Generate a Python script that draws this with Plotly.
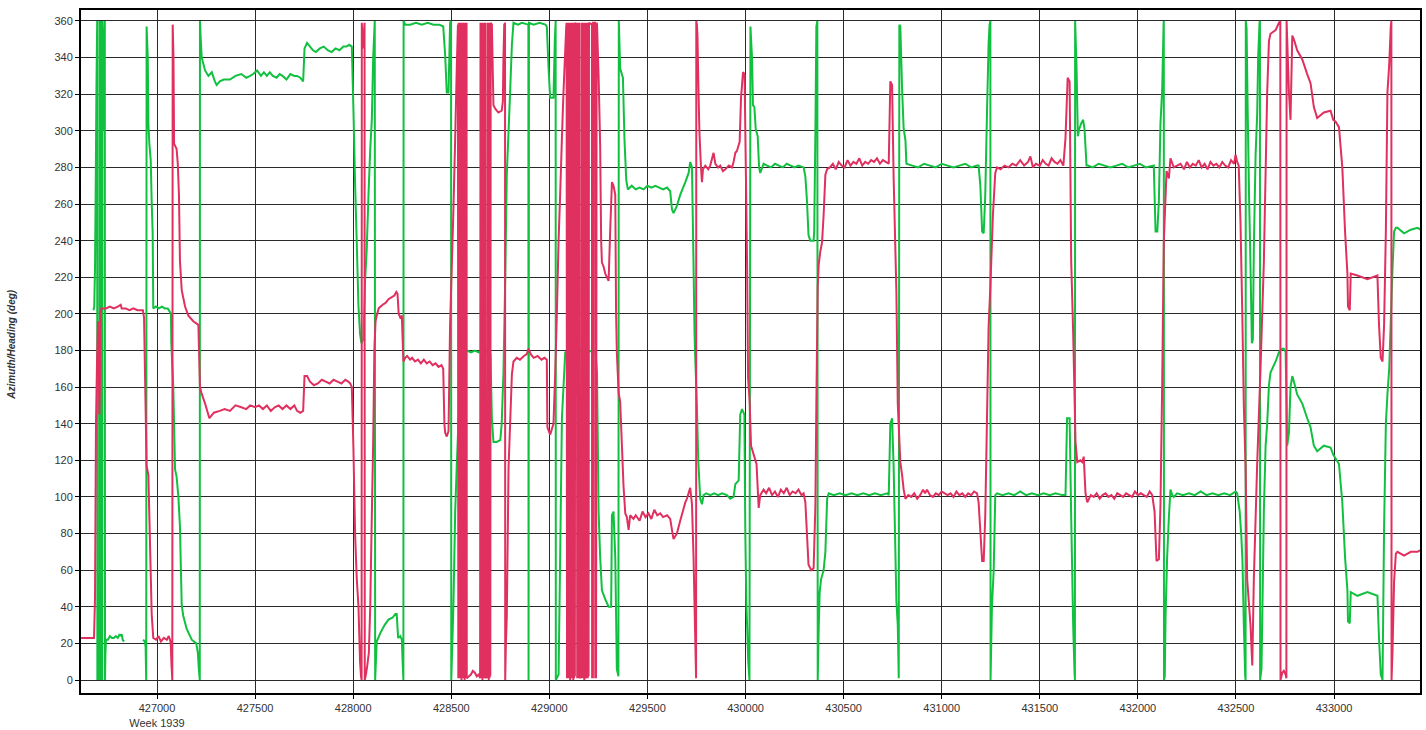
import plotly.graph_objects as go

# ---------------- data (x = time of week [s], y = angle [deg]) ----------------
GREEN = [
    (426676, 202), (426680, 204), (426684, 225), (426688, 275), (426691, 320), (426695, 360), (426696, 0),
    (426700, 8), (426703, 14), (426706, 0), (426707, 360), (426711, 355), (426713, 360), (426714, 0),
    (426718, 10), (426721, 0), (426722, 360), (426726, 340), (426728, 300), (426731, 345),
    (426734, 360), (426735, 0), (426737, 14), (426740, 22), (426750, 22), (426760, 24),
    (426770, 23), (426780, 23), (426790, 24), (426800, 23), (426810, 25), (426815, 24), (426820, 25),
    (426825, 22), (426832, 21),
    (426880, None),
    (426929, 22), (426938, 21), (426942, 18), (426945, 0), (426947, 357), (426953, 340), (426956, 304),
    (426961, 293), (426968, 284), (426973, 261), (426978, 244), (426981, 203), (426995, 204), (427010, 203),
    (427025, 204), (427040, 203), (427055, 203), (427066, 201), (427071, 200), (427073, 184), (427083, 160),
    (427092, 115), (427100, 111), (427109, 100), (427117, 84), (427122, 60), (427126, 41), (427134, 35),
    (427151, 28), (427177, 22), (427200, 20), (427208, 15), (427214, 5), (427218, 0), (427219, 360),
    (427223, 350), (427228, 340), (427245, 333), (427262, 330), (427279, 332), (427295, 327), (427304, 325),
    (427320, 327), (427340, 328), (427372, 328), (427400, 330), (427430, 331), (427455, 329), (427475, 330),
    (427490, 331), (427510, 333), (427530, 330), (427545, 332), (427560, 330), (427575, 332), (427590, 330),
    (427610, 329), (427625, 331), (427640, 330), (427660, 328), (427680, 331), (427700, 330), (427714, 330),
    (427730, 329), (427745, 327), (427752, 345), (427765, 348), (427780, 346), (427795, 344), (427810, 343),
    (427830, 345), (427850, 346), (427870, 344), (427890, 343), (427910, 345), (427930, 344), (427950, 346),
    (427965, 346), (427980, 347), (427993, 346), (428001, 313), (428010, 270), (428018, 240), (428027, 204),
    (428035, 189), (428042, 184), (428052, 186), (428061, 219), (428069, 235), (428078, 265), (428087, 290),
    (428095, 306), (428102, 340), (428110, 360), (428112, 0), (428120, 21), (428140, 26), (428160, 30),
    (428180, 33), (428200, 34), (428215, 36), (428222, 36), (428229, 23), (428240, 24), (428248, 22),
    (428252, 10), (428256, 0), (428257, 360), (428265, 358), (428290, 358), (428320, 359), (428350, 358),
    (428380, 359), (428410, 358), (428440, 358), (428459, 357), (428469, 341), (428477, 321), (428486, 321),
    (428494, 359), (428499, 360), (428500, 0), (428511, 41), (428520, 92), (428528, 117), (428540, 150),
    (428555, 175), (428565, 179), (428580, 180), (428600, 179), (428620, 180), (428640, 179), (428660, 180),
    (428680, 179), (428700, 178), (428707, 143), (428715, 130), (428731, 130), (428750, 131), (428757, 140),
    (428766, 168), (428775, 219), (428783, 276), (428800, 321), (428809, 347), (428817, 359), (428840, 358),
    (428860, 359), (428893, 358), (428894, 0), (428896, 359), (428920, 358), (428950, 359), (428980, 358),
    (428987, 357), (428996, 334), (429004, 318), (429021, 318), (429028, 350), (429032, 360), (429033, 0),
    (429047, 3), (429055, 67), (429064, 143), (429081, 179), (429100, 180), (429130, 179), (429160, 180),
    (429190, 179), (429220, 180), (429234, 180), (429243, 168), (429251, 92), (429259, 67), (429268, 49),
    (429285, 44), (429302, 40), (429315, 40), (429319, 90), (429327, 92), (429336, 67), (429344, 6),
    (429352, 2), (429354, 360), (429361, 334), (429375, 329), (429383, 295), (429392, 273), (429400, 268),
    (429420, 270), (429440, 268), (429460, 269), (429480, 268), (429500, 270), (429520, 269), (429540, 270),
    (429560, 269), (429580, 268), (429600, 269), (429616, 267), (429625, 257), (429633, 255), (429650, 259),
    (429667, 265), (429693, 272), (429710, 277), (429718, 283), (429727, 280), (429735, 226), (429740, 189),
    (429745, 172), (429752, 150), (429759, 120), (429769, 99), (429778, 96), (429786, 101), (429800, 102),
    (429820, 101), (429840, 102), (429860, 101), (429880, 102), (429905, 101), (429922, 99), (429939, 100),
    (429948, 107), (429965, 109), (429973, 145), (429982, 148), (429994, 145), (429999, 79), (430004, 43),
    (430014, 10), (430020, 0), (430025, 357), (430033, 340), (430038, 314), (430045, 313), (430052, 301),
    (430062, 297), (430069, 280), (430075, 277), (430092, 282), (430110, 281), (430130, 280), (430150, 282),
    (430170, 281), (430190, 280), (430210, 282), (430230, 281), (430250, 280), (430270, 281), (430296, 280),
    (430305, 275), (430313, 262), (430321, 243), (430330, 240), (430347, 240), (430350, 245), (430356, 299),
    (430361, 357), (430366, 360), (430368, 0), (430373, 28), (430378, 48), (430385, 55), (430398, 60),
    (430407, 70), (430416, 99), (430424, 102), (430450, 101), (430480, 102), (430510, 101), (430540, 102),
    (430570, 101), (430600, 102), (430630, 101), (430660, 102), (430690, 101), (430721, 102), (430730, 101),
    (430738, 140), (430747, 143), (430755, 116), (430769, 43), (430776, 30), (430781, 1), (430784, 358),
    (430789, 357), (430798, 323), (430806, 301), (430815, 295), (430820, 282), (430850, 281), (430880, 280),
    (430910, 282), (430940, 281), (430970, 280), (431000, 282), (431030, 281), (431060, 280), (431090, 281),
    (431120, 282), (431150, 280), (431180, 281), (431188, 281), (431197, 270), (431206, 245), (431214, 244),
    (431222, 265), (431231, 311), (431239, 348), (431244, 358), (431248, 360), (431249, 0), (431256, 40),
    (431265, 60), (431273, 101), (431282, 102), (431310, 101), (431340, 102), (431370, 101), (431400, 103),
    (431430, 101), (431460, 102), (431490, 101), (431520, 102), (431550, 101), (431580, 102), (431614, 101),
    (431631, 101), (431639, 143), (431652, 143), (431660, 89), (431670, 30), (431677, 4), (431679, 0),
    (431680, 360), (431687, 336), (431694, 297), (431701, 301), (431711, 304), (431721, 306), (431728, 301),
    (431738, 281), (431745, 281), (431770, 280), (431800, 282), (431830, 281), (431860, 280), (431890, 281),
    (431920, 282), (431950, 280), (431980, 281), (432010, 282), (432040, 280), (432081, 281), (432090, 245),
    (432099, 245), (432107, 262), (432115, 304), (432124, 323), (432131, 358), (432132, 360), (432133, 0),
    (432137, 2), (432141, 35), (432149, 67), (432158, 89), (432166, 104), (432175, 101), (432183, 100),
    (432200, 102), (432230, 101), (432260, 102), (432290, 101), (432320, 103), (432350, 101), (432380, 102),
    (432410, 101), (432440, 102), (432470, 101), (432498, 103), (432506, 102), (432519, 92), (432527, 79),
    (432533, 65), (432540, 30), (432547, 2), (432549, 0), (432550, 360), (432554, 356), (432560, 309),
    (432567, 262), (432574, 226), (432581, 184), (432586, 186), (432591, 236), (432600, 287), (432608, 309),
    (432613, 340), (432620, 359), (432622, 360), (432623, 0), (432630, 6), (432637, 55), (432642, 92),
    (432651, 128), (432659, 140), (432668, 161), (432676, 168), (432702, 174), (432719, 179), (432736, 181),
    (432744, 181), (432753, 179), (432758, 150), (432761, 128), (432770, 135), (432778, 160), (432787, 166),
    (432795, 163), (432812, 156), (432838, 151), (432863, 143), (432880, 138), (432897, 128), (432914, 125),
    (432948, 128), (432982, 127), (432996, 123), (433008, 121), (433025, 118), (433042, 97), (433056, 67),
    (433068, 49), (433071, 32), (433080, 31), (433085, 48), (433119, 46), (433170, 48), (433221, 46),
    (433229, 23), (433238, 3), (433247, 0), (433255, 84), (433264, 140), (433272, 156), (433281, 170),
    (433289, 196), (433298, 225), (433306, 245), (433315, 247), (433323, 247), (433357, 244), (433391, 246),
    (433425, 247), (433442, 246),
]

RED = [
    (426613, 23), (426650, 23), (426679, 23), (426684, 45), (426689, 140), (426694, 172), (426699, 196),
    (426703, 170), (426706, 145), (426709, 160), (426712, 200), (426716, 203), (426740, 203), (426760, 204),
    (426780, 203), (426800, 204), (426815, 205), (426820, 203), (426840, 203), (426860, 202), (426880, 203),
    (426900, 202), (426928, 202), (426934, 198), (426947, 117), (426956, 112), (426964, 76), (426973, 36),
    (426981, 23), (426995, 22), (427008, 24), (427020, 21), (427035, 23), (427050, 22), (427060, 24),
    (427066, 22), (427070, 20), (427074, 8), (427078, 0), (427080, 358), (427084, 340), (427087, 293),
    (427100, 290), (427106, 282), (427112, 265), (427117, 229), (427126, 213), (427143, 204), (427160, 199),
    (427185, 196), (427211, 194), (427219, 160), (427226, 157), (427245, 151), (427267, 143), (427290, 146),
    (427320, 147), (427345, 148), (427372, 147), (427400, 150), (427430, 149), (427455, 148), (427475, 150),
    (427500, 149), (427520, 150), (427540, 148), (427560, 150), (427580, 147), (427600, 149), (427620, 150),
    (427640, 148), (427660, 150), (427680, 148), (427700, 150), (427714, 147), (427730, 146), (427745, 147),
    (427752, 166), (427765, 166), (427780, 163), (427800, 161), (427820, 162), (427840, 164), (427860, 163),
    (427880, 162), (427900, 164), (427920, 163), (427940, 162), (427960, 164), (427975, 163), (427985, 162),
    (427993, 160), (428001, 128), (428010, 79), (428018, 56), (428027, 40), (428035, 10), (428040, 2),
    (428043, 0), (428044, 359), (428050, 345), (428058, 359), (428059, 0), (428065, 3), (428072, 8),
    (428080, 15), (428087, 40), (428095, 90), (428102, 130),
    (428108, 180), (428114, 196), (428120, 199), (428130, 203), (428150, 205), (428165, 206), (428180, 208),
    (428195, 209), (428210, 210), (428220, 212), (428226, 211), (428232, 200), (428240, 198), (428248, 199),
    (428256, 174), (428265, 176), (428275, 177), (428290, 175), (428300, 176), (428315, 174), (428330, 175),
    (428345, 173), (428360, 175), (428375, 173), (428390, 174), (428405, 172), (428420, 173), (428435, 171),
    (428450, 172), (428459, 170), (428465, 140), (428469, 135), (428477, 133), (428486, 136), (428494, 194),
    (428511, 257), (428520, 296), (428528, 334), (428534, 358),
    (428536, 1), (428538, 359), (428540, 1), (428542, 358), (428544, 2), (428546, 359), (428548, 1),
    (428550, 359), (428552, 0), (428554, 358), (428556, 1), (428558, 359), (428560, 2), (428562, 359),
    (428564, 1), (428566, 358), (428568, 0), (428570, 359), (428572, 1), (428574, 359), (428576, 2),
    (428578, 359), (428579, 1),
    (428590, 2), (428600, 3), (428610, 5), (428620, 4), (428630, 2), (428640, 3), (428647, 1),
    (428649, 359), (428651, 1), (428653, 358), (428655, 2), (428657, 359), (428659, 0), (428661, 359),
    (428663, 1), (428665, 358), (428667, 2), (428669, 359), (428671, 1), (428673, 359), (428675, 1),
    (428684, 2), (428685, 359), (428687, 1), (428689, 359), (428691, 0), (428693, 358), (428695, 1),
    (428697, 359), (428699, 2), (428701, 359), (428707, 358), (428712, 330), (428715, 314), (428725, 312),
    (428740, 310), (428757, 311), (428763, 316), (428766, 340), (428770, 358), (428774, 359), (428775, 0),
    (428778, 18), (428783, 35), (428792, 116), (428800, 140), (428809, 167), (428817, 174), (428834, 176),
    (428850, 175), (428870, 177), (428885, 178), (428894, 181), (428905, 178), (428920, 176), (428940, 177),
    (428960, 175), (428975, 176), (428987, 175), (428990, 138), (429004, 134), (429021, 140), (429030, 168),
    (429038, 199), (429047, 240), (429055, 265), (429064, 296), (429072, 321), (429086, 357), (429088, 359),
    (429090, 1), (429092, 359), (429094, 1), (429096, 359), (429098, 2), (429100, 358), (429102, 1),
    (429104, 359), (429106, 0), (429108, 359), (429110, 1), (429112, 358), (429114, 2), (429116, 359),
    (429118, 1), (429120, 359), (429122, 0), (429124, 358), (429126, 1), (429128, 359), (429130, 2),
    (429132, 359), (429140, 358), (429142, 1), (429144, 359), (429146, 2), (429148, 358), (429150, 1),
    (429152, 359), (429154, 1), (429163, 2), (429164, 359), (429166, 1), (429168, 358), (429170, 2),
    (429172, 359), (429174, 1), (429176, 359), (429178, 0), (429180, 358), (429182, 1), (429184, 359),
    (429186, 1), (429193, 3), (429194, 359), (429196, 1), (429198, 358), (429200, 2), (429202, 359),
    (429217, 358), (429218, 1), (429220, 359), (429222, 1), (429223, 359), (429233, 359), (429234, 1),
    (429236, 359), (429238, 1), (429241, 359), (429243, 358), (429251, 330), (429259, 292), (429264, 240),
    (429268, 228), (429276, 226), (429285, 222), (429302, 218), (429310, 245), (429319, 272), (429327, 270),
    (429336, 265), (429340, 201), (429344, 179), (429353, 157), (429361, 152), (429370, 128), (429378, 106),
    (429387, 91), (429395, 89), (429404, 82), (429412, 90), (429429, 88), (429440, 90), (429460, 87),
    (429475, 92), (429490, 89), (429505, 91), (429520, 88), (429535, 93), (429550, 90), (429565, 91),
    (429580, 89), (429600, 90), (429616, 88), (429625, 82), (429633, 77), (429650, 80), (429667, 87),
    (429693, 97), (429701, 99), (429718, 105), (429727, 96), (429735, 67), (429743, 26), (429748, 1),
    (429749, 360), (429752, 358), (429755, 352), (429760, 323), (429765, 299), (429773, 280), (429778, 272),
    (429783, 279), (429795, 281), (429810, 279), (429820, 281), (429837, 288), (429846, 282), (429860, 280),
    (429871, 281), (429885, 278), (429897, 279), (429915, 281), (429931, 280), (429939, 283), (429948, 288),
    (429956, 289), (429970, 294), (429977, 318), (429987, 332), (429995, 331), (430002, 275), (430008, 226),
    (430013, 165), (430021, 152), (430028, 128), (430042, 123), (430056, 118), (430067, 94), (430075, 101),
    (430092, 104), (430105, 102), (430120, 105), (430135, 101), (430150, 103), (430165, 100), (430180, 104),
    (430195, 102), (430210, 105), (430225, 101), (430240, 103), (430255, 102), (430270, 104), (430285, 101),
    (430296, 102), (430305, 97), (430321, 63), (430335, 60), (430347, 61), (430356, 95), (430361, 151),
    (430368, 215), (430373, 227), (430381, 234), (430390, 239), (430398, 254), (430407, 276), (430416, 279),
    (430430, 280), (430445, 282), (430460, 279), (430475, 283), (430490, 281), (430505, 280), (430520, 284),
    (430535, 281), (430550, 283), (430565, 282), (430580, 285), (430595, 281), (430610, 283), (430625, 282),
    (430640, 284), (430655, 283), (430670, 285), (430685, 282), (430700, 284), (430715, 283), (430730, 282),
    (430738, 327), (430747, 325), (430755, 274), (430769, 212), (430776, 151), (430789, 119), (430798, 112),
    (430806, 104), (430815, 99), (430830, 101), (430845, 100), (430860, 102), (430875, 99), (430890, 101),
    (430905, 104), (430915, 102), (430925, 104), (430940, 101), (430955, 100), (430970, 102), (430985, 101),
    (431000, 103), (431015, 102), (431030, 101), (431045, 102), (431060, 100), (431075, 103), (431090, 101),
    (431105, 102), (431120, 100), (431135, 102), (431150, 101), (431165, 103), (431180, 102), (431188, 97),
    (431206, 65), (431214, 65), (431222, 90), (431231, 144), (431239, 193), (431248, 215), (431261, 254),
    (431273, 277), (431282, 280), (431300, 279), (431320, 281), (431340, 280), (431360, 282), (431380, 281),
    (431400, 284), (431420, 281), (431440, 283), (431452, 286), (431465, 280), (431480, 282), (431500, 281),
    (431515, 284), (431530, 282), (431545, 281), (431560, 285), (431575, 283), (431590, 282), (431605, 284),
    (431620, 281), (431631, 296), (431642, 329), (431652, 327), (431660, 229), (431670, 190), (431682, 130),
    (431691, 119), (431707, 120), (431716, 119), (431724, 122), (431733, 102), (431742, 97), (431760, 101),
    (431775, 100), (431790, 102), (431805, 99), (431820, 101), (431835, 102), (431850, 100), (431865, 101),
    (431880, 99), (431895, 102), (431910, 101), (431925, 100), (431940, 102), (431955, 101), (431970, 100),
    (431985, 103), (432000, 101), (432015, 102), (432030, 101), (432045, 100), (432060, 103), (432073, 101),
    (432085, 92), (432095, 65), (432107, 66), (432115, 95), (432124, 163), (432132, 239), (432146, 278),
    (432158, 274), (432166, 285), (432183, 280), (432200, 281), (432217, 282), (432235, 279), (432250, 283),
    (432265, 280), (432280, 282), (432295, 281), (432310, 284), (432325, 280), (432340, 282), (432355, 279),
    (432370, 283), (432385, 281), (432400, 282), (432415, 280), (432430, 283), (432445, 281), (432460, 280),
    (432475, 284), (432490, 282), (432498, 287), (432506, 283), (432514, 281), (432523, 250), (432532, 201),
    (432540, 150), (432549, 116), (432557, 55), (432574, 30), (432583, 8), (432591, 55), (432608, 118),
    (432625, 170), (432642, 228), (432659, 321), (432668, 349), (432676, 353), (432702, 355), (432719, 359),
    (432726, 360), (432727, 0), (432736, 4), (432744, 5), (432753, 3), (432757, 1), (432758, 360),
    (432761, 350), (432770, 321), (432778, 306), (432787, 352), (432795, 350), (432812, 344), (432838, 339),
    (432863, 331), (432880, 326), (432897, 313), (432914, 307), (432948, 310), (432982, 311), (432996, 306),
    (433008, 305), (433025, 302), (433042, 280), (433056, 245), (433068, 222), (433071, 204), (433080, 202),
    (433085, 222), (433119, 221), (433170, 219), (433221, 221), (433229, 194), (433238, 176), (433247, 174),
    (433255, 194), (433264, 245), (433272, 321), (433281, 336), (433289, 357), (433292, 360), (433293, 0),
    (433298, 16), (433306, 54), (433315, 69), (433323, 70), (433357, 68), (433391, 70), (433425, 70),
    (433442, 71),
]

X_TICKS = [427000, 427500, 428000, 428500, 429000, 429500, 430000, 430500,
           431000, 431500, 432000, 432500, 433000]
X_TICK_TEXT = ["427000<br>Week 1939"] + [str(v) for v in X_TICKS[1:]]
Y_TICKS = list(range(0, 361, 20))

gx = [p[0] for p in GREEN]
gy = [p[1] for p in GREEN]
rx = [p[0] for p in RED]
ry = [p[1] for p in RED]

fig = go.Figure()
fig.add_trace(go.Scatter(x=gx, y=gy, mode="lines", connectgaps=False,
                         line=dict(color="#12C040", width=2, simplify=False),
                         hoverinfo="skip", showlegend=False))
fig.add_trace(go.Scatter(x=rx, y=ry, mode="lines",
                         line=dict(color="#E0305F", width=2, simplify=False),
                         hoverinfo="skip", showlegend=False))

axis_common = dict(showgrid=True, gridcolor="#2a2a2a", gridwidth=1,
                   showline=True, linecolor="black", linewidth=2, mirror=True,
                   ticks="outside", ticklen=4, tickcolor="black", tickwidth=1,
                   zeroline=False, automargin=False,
                   tickfont=dict(family="Liberation Sans, Arial, sans-serif", size=11, color="#333333"))

fig.update_xaxes(range=[426612.6, 433438], tickmode="array", tickvals=X_TICKS,
                 ticktext=X_TICK_TEXT, **axis_common)
fig.update_yaxes(range=[-7.1, 366], tickmode="array", tickvals=Y_TICKS, **axis_common)

fig.add_annotation(text="<b><i>Azimuth/Heading (deg)</i></b>", textangle=-90,
                   xref="paper", yref="paper", x=-0.0515, y=0.51,
                   xanchor="center", yanchor="middle", showarrow=False,
                   font=dict(family="Liberation Sans, Arial, sans-serif", size=10, color="#333333"))

fig.update_layout(width=1426, height=730,
                  margin=dict(l=81, r=6, t=10, b=37, autoexpand=False),
                  paper_bgcolor="white", plot_bgcolor="white",
                  showlegend=False)

fig.write_html("out.html", config={"displayModeBar": False},
               post_script="document.body.style.margin='0px';document.body.style.overflow='hidden';")
